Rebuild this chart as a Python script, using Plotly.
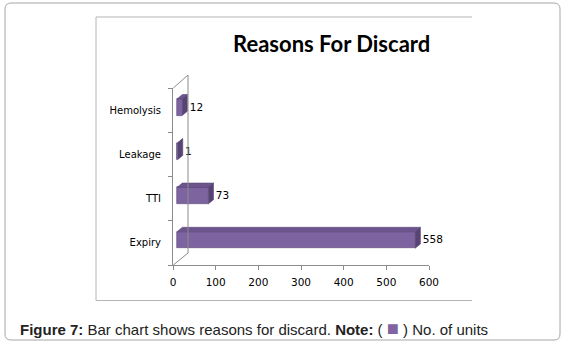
import plotly.graph_objects as go

# ---- data ----
categories = ["Expiry", "TTI", "Leakage", "Hemolysis"]
units = [558, 73, 1, 12]
x_ticks = [0, 100, 200, 300, 400, 500, 600]
title_text = "Reasons For Discard"
caption_html = ("<b>Figure 7:</b> Bar chart shows reasons for discard. <b>Note:</b> "
                "( <span style='color:#8064A2;font-size:20px'>■</span> ) No. of units")

# ---- layout geometry (pixels) ----
W, H = 569, 346
L, R, T, B = 173, 140, 88, 81
PW, PH = W - L - R, H - T - B


def px(xp):
    return (xp - L) / PW


def py(yp):
    return (H - B - yp) / PH


# 3D bar styling constants (data units)
DX0 = 9.4      # front face set back from axis
Y0 = -0.123    # front face bottom relative to category
BW = 0.375     # front face height
DDX = 12.5     # depth offset in x
DDY = 0.10     # depth offset in y
LABEL_GAP = 5.5

FRONT = "#7E63A1"
TOP = "#6C548C"
SIDE = "#574475"
EDGE = "#5A4678"

fig = go.Figure()

ypos = list(range(len(categories)))

# top and side faces as polygons computed from the values
for i, v in zip(ypos, units):
    x0, x1 = DX0, DX0 + v
    yb, yt = i + Y0, i + Y0 + BW
    fig.add_trace(go.Scatter(
        x=[x0, x1, x1 + DDX, x0 + DDX, x0],
        y=[yt, yt, yt + DDY, yt + DDY, yt],
        fill="toself", fillcolor=TOP, mode="lines",
        line=dict(color=EDGE, width=0.6), hoverinfo="skip", showlegend=False))
    fig.add_trace(go.Scatter(
        x=[x1, x1 + DDX, x1 + DDX, x1, x1],
        y=[yb, yb + DDY, yt + DDY, yt, yb],
        fill="toself", fillcolor=SIDE, mode="lines",
        line=dict(color=EDGE, width=0.6), hoverinfo="skip", showlegend=False))

# front faces
fig.add_trace(go.Bar(
    y=ypos, x=units, base=DX0, orientation="h",
    width=BW, offset=Y0,
    marker=dict(color=FRONT, line=dict(color=EDGE, width=0.6)),
    name="No. of units", showlegend=False))

# data labels
fig.add_trace(go.Scatter(
    x=[v + DX0 + DDX + LABEL_GAP for v in units], y=[i + 0.05 for i in ypos],
    mode="text", text=[str(v) for v in units], textposition="middle right",
    textfont=dict(family="DejaVu Sans", size=10.5, color="#000000"),
    cliponaxis=False, hoverinfo="skip", showlegend=False))

axis_gray = "#8C8C8C"

fig.update_layout(
    width=W, height=H,
    margin=dict(l=L, r=R, t=T, b=B, autoexpand=False),
    paper_bgcolor="#FFFFFF", plot_bgcolor="rgba(0,0,0,0)",
    bargap=0,
    xaxis=dict(range=[0, 600], tickvals=x_ticks, showgrid=False, zeroline=False,
               showline=True, linecolor=axis_gray, linewidth=1,
               ticks="outside", ticklen=4, tickcolor=axis_gray, ticklabelstandoff=3,
               tickfont=dict(family="DejaVu Sans", size=10.5, color="#000000")),
    yaxis=dict(range=[-0.5, 3.5], tickvals=ypos, ticktext=categories,
               showgrid=False, zeroline=False, showline=True,
               linecolor=axis_gray, linewidth=1, ticks="", ticklabelstandoff=9,
               minor=dict(tickvals=[-0.5, 0.5, 1.5, 2.5, 3.5], ticks="outside",
                          ticklen=4, tickcolor=axis_gray, showgrid=False),
               tickfont=dict(family="DejaVu Sans", size=10, color="#000000")),
)

shapes = []
# outer rounded border
x0o, x1o, y0o, y1o, r = 5, 560, 3, 340, 6
path = (f"M {px(x0o + r)} {py(y0o)} L {px(x1o - r)} {py(y0o)} "
        f"Q {px(x1o)} {py(y0o)} {px(x1o)} {py(y0o + r)} "
        f"L {px(x1o)} {py(y1o - r)} Q {px(x1o)} {py(y1o)} {px(x1o - r)} {py(y1o)} "
        f"L {px(x0o + r)} {py(y1o)} Q {px(x0o)} {py(y1o)} {px(x0o)} {py(y1o - r)} "
        f"L {px(x0o)} {py(y0o + r)} Q {px(x0o)} {py(y0o)} {px(x0o + r)} {py(y0o)} Z")
shapes.append(dict(type="path", xref="paper", yref="paper", path=path,
                   line=dict(color="#A6A6A6", width=1)))
# inner chart frame (top, left, bottom)
inner = f"M {px(472)} {py(17)} L {px(96)} {py(17)} L {px(96)} {py(300.5)} L {px(472)} {py(300.5)}"
shapes.append(dict(type="path", xref="paper", yref="paper", path=inner,
                   line=dict(color="#B4B4B4", width=1)))
# 3D walls
wall = f"M {px(173.3)} {py(265)} L {px(188)} {py(253)} L {px(188)} {py(75)} L {px(173.3)} {py(88)}"
shapes.append(dict(type="path", xref="paper", yref="paper", path=wall,
                   line=dict(color=axis_gray, width=1)))
fig.update_layout(shapes=shapes)

fig.add_annotation(xref="paper", yref="paper", x=px(331), y=py(43),
                   xanchor="center", yanchor="middle",
                   text=f"<b>{title_text}</b>", showarrow=False,
                   font=dict(family="Lato", size=22, color="#000000"))
fig.add_annotation(xref="paper", yref="paper", x=px(18), y=py(328),
                   xanchor="left", yanchor="middle", text=caption_html, showarrow=False,
                   font=dict(family="Liberation Sans", size=15, color="#222222"))

fig.write_html("out.html", config={"displayModeBar": False},
               post_script="document.body.style.margin='0';document.body.style.overflow='hidden';")
